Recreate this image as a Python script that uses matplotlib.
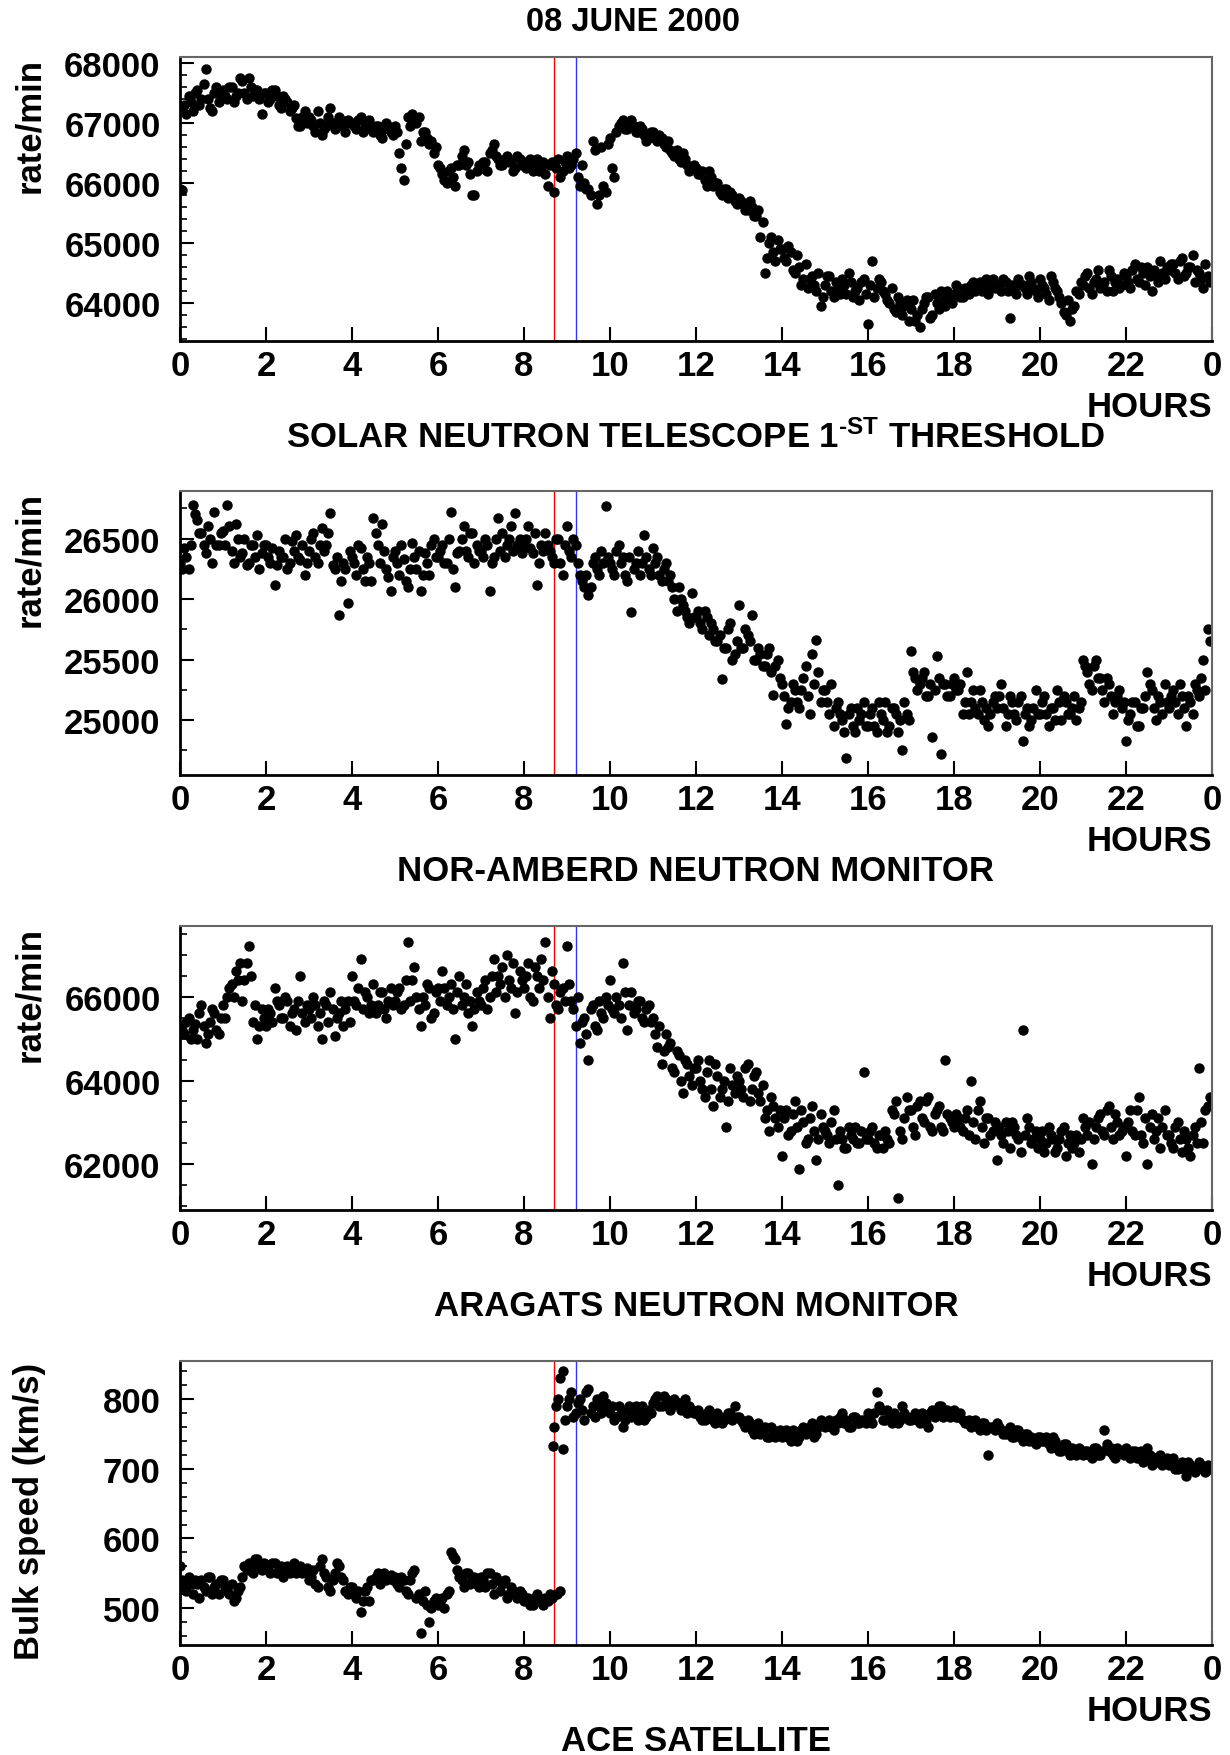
import numpy as np
import matplotlib
matplotlib.use("Agg")
import matplotlib.pyplot as plt

plt.rcParams.update({'font.family': 'Liberation Sans', 'font.weight': 'bold',
                     'axes.labelweight': 'bold', 'font.size': 25,
                     'mathtext.fontset': 'custom',
                     'mathtext.rm': 'Liberation Sans:bold',
                     'mathtext.bf': 'Liberation Sans:bold',
                     'mathtext.default': 'bf'})

# Values: one every 6 minutes (0.1 h) on the hour grid,
# and a second set on the half-step (0.05 h + k*0.1 h). One row per hour.
snt = [65900, 67300, 67450, 67200, 67550, 67400, 67900, 67250, 67500, 67350,
       67550, 67400, 67600, 67450, 67750, 67500, 67750, 67450, 67550, 67150,
       67500, 67400, 67550, 67300, 67450, 67350, 67250, 67080, 66950, 67200,
       67100, 66950, 67200, 66800, 66950, 67250, 66900, 67100, 66950, 67050,
       67000, 66900, 67100, 66950, 67050, 66850, 66950, 66750, 67000, 66850,
       66950, 66500, 66050, 67100, 67150, 67000, 66700, 66850, 66650, 66500,
       66300, 66150, 66000, 66250, 65950, 66300, 66550, 66350, 65800, 66200,
       66250, 66350, 66500, 66650, 66400, 66300, 66450, 66350, 66250, 66400,
       66350, 66300, 66200, 66400, 66250, 66150, 66300, 65850, 66400, 66200,
       66450, 66300, 66500, 65950, 66000, 65900, 66700, 65650, 66600, 65850,
       66750, 66100, 66950, 67050, 66900, 67050, 66850, 66950, 66800, 66750,
       66850, 66700, 66750, 66600, 66550, 66450, 66400, 66500, 66300, 66250,
       66250, 66150, 66050, 66200, 65950, 66000, 65800, 65900, 65850, 65700,
       65750, 65650, 65550, 65600, 65450, 65100, 64500, 65000, 64850, 65050,
       64900, 64700, 64850, 64500, 64600, 64400, 64250, 64450, 64200, 63950,
       64300, 64450, 64100, 64250, 64400, 64150, 64350, 64200, 64050, 64400,
       63650, 64700, 64250, 64350, 64150, 64000, 63900, 64100, 63800, 64050,
       63900, 63700, 63600, 64000, 64100, 63800, 64000, 64200, 63950, 64100,
       64150, 64250, 64100, 64200, 64300, 64200, 64350, 64250, 64150, 64400,
       64300, 64200, 64350, 63750, 64250, 64400, 64300, 64150, 64350, 64200,
       64400, 64250, 64050, 64350, 64200, 64000, 63800, 63700, 63950, 64150,
       64300, 64500, 64150, 64400, 64250, 64350, 64550, 64200, 64400, 64300,
       64450, 64250, 64650, 64350, 64500, 64600, 64200, 64450, 64700, 64400,
       64550, 64650, 64400, 64750, 64500, 64600, 64350, 64500, 64250, 64450]
snt_b = [65880, 67150, 67350, 67500, 67300, 67650, 67400, 67200, 67600, 67450,
         67450, 67600, 67350, 67500, 67700, 67400, 67600, 67550, 67400, 67500,
         67350, 67550, 67450, 67250, 67400, 67200, 67300, 66950, 67100, 67000,
         67050, 66850, 67000, 66900, 67100, 67000, 66950, 67050, 66850, 67000,
         66950, 67050, 66850, 67000, 66900, 66950, 66800, 66900, 66950, 66800,
         66850, 66250, 66650, 66950, 67050, 67100, 66850, 66750, 66700, 66600,
         66250, 66050, 66200, 66100, 66300, 66450, 66300, 66150, 65800, 66300,
         66350, 66200, 66550, 66450, 66300, 66400, 66350, 66200, 66450, 66300,
         66250, 66400, 66300, 66200, 66350, 65950, 66350, 66250, 66100, 66350,
         66250, 66400, 66100, 66300, 65900, 65800, 66550, 65800, 65950, 66650,
         66250, 66850, 67000, 66900, 67000, 66950, 66850, 66900, 66700, 66850,
         66750, 66800, 66650, 66700, 66500, 66550, 66350, 66400, 66200, 66300,
         66150, 66200, 65950, 66100, 66000, 65850, 65900, 65750, 65800, 65650,
         65700, 65550, 65700, 65450, 65550, 65350, 64750, 65100, 64700, 64900,
         64750, 64950, 64550, 64800, 64300, 64650, 64400, 64300, 64500, 64100,
         64450, 64200, 64350, 64150, 64300, 64500, 64100, 64250, 64350, 64150,
         64300, 64100, 64400, 64200, 64050, 64250, 63850, 64000, 63950, 63700,
         64050, 63800, 63900, 64100, 63750, 64150, 63900, 64050, 64200, 64000,
         64300, 64100, 64250, 64150, 64350, 64250, 64200, 64400, 64300, 64250,
         64250, 64400, 64200, 64300, 64150, 64300, 64250, 64450, 64250, 64100,
         64300, 64150, 64450, 64250, 64100, 63850, 64050, 63900, 64200, 64350,
         64450, 64250, 64350, 64550, 64300, 64200, 64450, 64350, 64250, 64500,
         64350, 64550, 64400, 64600, 64300, 64450, 64550, 64350, 64500, 64600,
         64650, 64500, 64700, 64450, 64600, 64800, 64550, 64400, 64650, 64350]

nor_amberd = [26300, 26420, 26250, 26780, 26650, 26550, 26380, 26500, 26720, 26450,
              26560, 26780, 26400, 26620, 26350, 26500, 26300, 26450, 26530, 26380,
              26450, 26300, 26120, 26400, 26350, 26250, 26480, 26530, 26320, 26200,
              26400, 26550, 26300, 26590, 26450, 26710, 26250, 25870, 26300, 25970,
              26350, 26200, 26420, 26150, 26300, 26670, 26450, 26620, 26250, 26070,
              26400, 26200, 26330, 26100, 26460, 26250, 26070, 26380, 26200, 26500,
              26350, 26450, 26300, 26720, 26100, 26400, 26600, 26350, 26550, 26450,
              26400, 26500, 26070, 26350, 26670, 26550, 26450, 26600, 26710, 26500,
              26450, 26600, 26380, 26120, 26450, 26550, 26400, 26300, 26500, 26200,
              26600, 26350, 26450, 26200, 26100, 26030, 26300, 26250, 26400, 26770,
              26300, 26200, 26450, 26350, 26150, 25890, 26300, 26200, 26530, 26250,
              26420, 26350, 26150, 26300, 26200, 26000, 26100, 25950, 25850, 26050,
              25850, 25800, 25900, 25700, 25750, 25650, 25340, 25600, 25800, 25550,
              25950, 25600, 25700, 25870, 25500, 25550, 25450, 25600, 25210, 25500,
              25300, 24970, 25150, 25250, 25100, 25350, 25200, 25550, 25660, 25150,
              25250, 25050, 24950, 25150, 25000, 24690, 25100, 24900, 25000, 25150,
              24950, 25100, 24900, 25050, 25150, 24950, 25100, 24900, 24750, 25050,
              25570, 25350, 25300, 25400, 25200, 24860, 25530, 24720, 25300, 25200,
              25350, 25250, 25050, 25400, 25150, 25100, 25250, 25000, 24950, 25150,
              25100, 25300, 24950, 25200, 25050, 25150, 24830, 25100, 25000, 25250,
              25050, 25200, 24950, 25100, 25250, 25000, 25150, 25050, 25200, 25100,
              25500, 25400, 25250, 25500, 25350, 25150, 25300, 25050, 25200, 25100,
              24830, 25050, 25150, 24950, 25100, 25400, 25250, 25000, 25150, 25300,
              25100, 25250, 25050, 25200, 24950, 25150, 25300, 25200, 25500, 25750]
nor_amberd_b = [26250, 26350, 26450, 26700, 26550, 26450, 26600, 26300, 26450, 26550,
                26450, 26600, 26300, 26500, 26380, 26280, 26450, 26350, 26250, 26450,
                26350, 26420, 26280, 26350, 26500, 26300, 26400, 26350, 26450, 26300,
                26500, 26350, 26450, 26400, 26550, 26280, 26350, 26150, 26250, 26400,
                26300, 26450, 26250, 26350, 26150, 26550, 26300, 26400, 26180, 26350,
                26300, 26450, 26150, 26250, 26350, 26400, 26200, 26300, 26450, 26350,
                26400, 26300, 26500, 26250, 26380, 26500, 26400, 26550, 26300, 26400,
                26350, 26450, 26300, 26500, 26400, 26350, 26500, 26400, 26450, 26380,
                26500, 26420, 26550, 26300, 26400, 26450, 26350, 26500, 26300, 26450,
                26400, 26500, 26300, 26150, 26200, 26100, 26350, 26200, 26300, 26350,
                26250, 26400, 26300, 26200, 26350, 26250, 26400, 26300, 26350, 26200,
                26300, 26200, 26250, 26150, 26100, 25900, 26000, 25900, 25800, 25850,
                25900, 25750, 25850, 25800, 25650, 25700, 25600, 25750, 25500, 25650,
                25600, 25750, 25650, 25500, 25600, 25450, 25550, 25400, 25450, 25350,
                25200, 25100, 25300, 25150, 25250, 25450, 25050, 25300, 25400, 25250,
                25150, 25300, 25100, 25050, 24900, 25050, 24950, 25100, 25050, 24950,
                25050, 24950, 25150, 25000, 24900, 25100, 25050, 25000, 25150, 25000,
                25400, 25250, 25350, 25200, 25300, 25250, 25350, 25300, 25200, 25300,
                25250, 25300, 25150, 25050, 25250, 25050, 25150, 25100, 25050, 25200,
                25200, 25100, 25050, 25150, 25000, 25200, 25050, 24950, 25100, 25050,
                25150, 25050, 25100, 25000, 25150, 25200, 25050, 25100, 25000, 25150,
                25450, 25300, 25450, 25350, 25250, 25350, 25200, 25150, 25250, 25150,
                25000, 25150, 24950, 25100, 25200, 25300, 25100, 25200, 25050, 25150,
                25200, 25150, 25300, 25100, 25200, 25050, 25250, 25350, 25250, 25650]

aragats = [65300, 65100, 65500, 65200, 65000, 65800, 64900, 65400, 65600, 65100,
           65800, 66000, 66300, 66600, 66800, 66400, 67200, 65400, 65000, 65700,
           65300, 65600, 66200, 65800, 65500, 65900, 65600, 65200, 66500, 65400,
           65700, 66000, 65300, 65000, 65800, 66100, 65050, 65600, 65300, 65900,
           66500, 65800, 66900, 66100, 65600, 66300, 65800, 66100, 65500, 66200,
           65900, 66200, 65800, 67300, 66400, 66000, 65300, 65800, 66200, 65600,
           66200, 66600, 65800, 66300, 65000, 66500, 66000, 65600, 65300, 66100,
           65800, 66400, 66000, 66900, 66500, 66700, 67000, 66200, 65600, 66600,
           66200, 66800, 65900, 66500, 66900, 67300, 65500, 66300, 65700, 66200,
           67200, 65900, 65300, 64900, 65500, 64500, 65800, 65200, 65600, 66000,
           66400, 65600, 65800, 66800, 65200, 66100, 65700, 65900, 65400, 65800,
           65500, 64800, 64400, 65100, 64900, 64200, 64600, 63700, 64400, 63900,
           64300, 64000, 63600, 64500, 63400, 64100, 63800, 62900, 64300, 63700,
           64000, 63600, 64400, 63800, 64200, 63500, 63100, 62800, 63400, 62900,
           62200, 63300, 62800, 63500, 61900, 63000, 62600, 63400, 62100, 63200,
           62800, 62500, 63300, 61500, 62600, 62400, 62700, 62900, 62500, 64200,
           62600, 62900, 62400, 62700, 62800, 62500, 63200, 61200, 62600, 63600,
           63300, 62700, 63500, 63000, 63600, 62800, 63300, 62900, 64500, 63100,
           62900, 63100, 62800, 63300, 64000, 62600, 63500, 62500, 63100, 62800,
           62100, 62700, 63000, 62400, 62900, 62600, 65200, 63100, 62500, 62800,
           62600, 62300, 62900, 62600, 62400, 62800, 62200, 62700, 62500, 62300,
           63100, 62700, 62000, 62900, 63200, 62700, 63400, 62600, 63000, 62800,
           62200, 63300, 62700, 63600, 62500, 62000, 63200, 62800, 62400, 63300,
           62700, 62400, 63000, 62300, 62600, 62200, 62900, 64300, 62500, 63400]
aragats_b = [65200, 65400, 65000, 65350, 65600, 65300, 65100, 65700, 65200, 65500,
             65500, 66200, 66000, 66400, 65900, 66800, 66500, 65800, 65300, 65500,
             65700, 65400, 65900, 65500, 66000, 65300, 65700, 65900, 65600, 65800,
             65500, 65800, 65600, 65900, 65400, 65700, 65500, 65900, 65700, 65400,
             65900, 66200, 65700, 66000, 65800, 65600, 66100, 65700, 65900, 65800,
             66100, 65700, 66400, 65900, 66700, 65700, 66000, 66300, 65500, 66100,
             65900, 66200, 66000, 65700, 66100, 65800, 66300, 65900, 65700, 65900,
             66200, 65700, 66500, 66100, 66300, 66000, 66400, 66800, 66100, 66400,
             66500, 66000, 66700, 66200, 66400, 66000, 66600, 65800, 66100, 65900,
             66300, 65700, 66000, 65400, 65100, 65700, 65300, 65900, 65500, 65800,
             65700, 66000, 65500, 66100, 65800, 65600, 65900, 65500, 65700, 65400,
             65100, 65300, 64700, 64800, 64300, 64700, 64000, 64500, 64100, 64300,
             64500, 63800, 64200, 63800, 64400, 63600, 64000, 63500, 63900, 64100,
             63800, 64300, 63500, 64100, 63700, 63900, 63300, 63600, 63100, 63300,
             63100, 62700, 63200, 62900, 63300, 62500, 63100, 62800, 62600, 62900,
             62700, 63000, 62600, 62800, 62400, 62900, 62600, 62500, 62800, 62600,
             62800, 62500, 62700, 62400, 62600, 63300, 63500, 62800, 63100, 63300,
             62900, 63400, 63100, 63500, 62900, 63200, 63400, 62800, 63200, 63000,
             63200, 62900, 63100, 62700, 63000, 63300, 62900, 63100, 62700, 63000,
             62900, 62500, 62800, 63000, 62700, 62300, 62700, 62900, 62600, 62400,
             62800, 62500, 62700, 62300, 62600, 62900, 62500, 62400, 62700, 62600,
             62900, 63000, 62600, 63100, 62800, 63300, 62900, 63200, 62700, 62900,
             63000, 62800, 63300, 62700, 63100, 62900, 62600, 63100, 62900, 62700,
             62500, 62900, 62600, 62800, 62400, 62700, 62500, 63000, 63300, 63600]

ace = [560, 530, 545, 520, 535, 540, 525, 545, 530, 520,
       540, 525, 535, 515, 530, 560, 565, 550, 570, 555,
       560, 550, 565, 555, 545, 560, 555, 550, 560, 555,
       540, 555, 530, 570, 545, 525, 550, 560, 540, 520,
       530, 515, 495, 525, 510, 540, 550, 545, 540, 548,
       545, 530, 540, 520, 550, 515, 465, 525, 480, 510,
       505, 515, 520, 580, 570, 545, 530, 550, 540, 535,
       545, 530, 550, 520, 540, 535, 515, 530, 520, 525,
       510, 515, 505, 520, 510, 515, 520, 760, 800, 840,
       790, 810, 780, 800, 770, 815, 790, 800, 780, 795,
       780, 770, 790, 760, 785, 775, 790, 780, 770, 785,
       795, 805, 790, 800, 785, 800, 795, 790, 780, 785,
       780, 775, 770, 785, 770, 780, 765, 775, 780, 790,
       775, 765, 770, 755, 760, 750, 760, 745, 755, 750,
       745, 755, 740, 750, 745, 760, 755, 765, 750, 770,
       760, 770, 755, 765, 780, 770, 760, 775, 765, 770,
       780, 765, 810, 785, 770, 775, 780, 765, 790, 775,
       770, 780, 765, 775, 760, 785, 780, 790, 780, 775,
       785, 775, 770, 765, 760, 770, 755, 765, 720, 760,
       765, 755, 750, 760, 745, 755, 740, 750, 745, 735,
       745, 740, 735, 745, 730, 725, 735, 720, 725, 730,
       720, 725, 715, 730, 720, 755, 725, 720, 730, 725,
       730, 715, 725, 720, 710, 730, 705, 715, 720, 710,
       705, 715, 700, 710, 690, 705, 695, 710, 700, 705]
ace_b = [540, 525, 535, 540, 515, 530, 545, 520, 535, 540,
         530, 520, 510, 525, 545, 555, 560, 570, 560, 565,
         555, 565, 550, 560, 555, 550, 565, 555, 550, 558,
         545, 535, 560, 550, 530, 540, 565, 545, 525, 530,
         520, 525, 510, 530, 540, 545, 535, 550, 545, 540,
         535, 545, 525, 540, 555, 520, 510, 505, 500, 515,
         510, 500, 525, 575, 555, 540, 550, 535, 545, 530,
         540, 550, 535, 545, 525, 540, 520, 525, 515, 520,
         515, 505, 515, 510, 505, 510, 515, 790, 830, 770,
         800, 775, 795, 785, 810, 780, 775, 790, 805, 785,
         790, 775, 780, 770, 790, 780, 770, 790, 775, 780,
         800, 790, 805, 795, 790, 795, 785, 800, 790, 780,
         785, 770, 780, 775, 765, 775, 770, 780, 770, 775,
         770, 760, 765, 750, 765, 755, 745, 760, 745, 755,
         750, 745, 755, 740, 755, 750, 760, 745, 760, 765,
         765, 760, 770, 775, 765, 760, 775, 765, 770, 765,
         770, 780, 790, 770, 785, 765, 775, 770, 780, 770,
         775, 770, 780, 770, 780, 775, 790, 775, 785, 780,
         775, 780, 765, 770, 765, 760, 765, 755, 760, 755,
         760, 750, 755, 745, 755, 745, 750, 740, 740, 745,
         740, 745, 730, 740, 725, 735, 725, 730, 720, 725,
         725, 720, 730, 720, 725, 735, 730, 715, 725, 720,
         720, 725, 715, 725, 715, 720, 715, 710, 705, 715,
         710, 700, 705, 700, 710, 700, 700, 705, 695, 700]
# overlapping points around the shock arrival
ace_extra_t = [8.68, 8.78, 8.83, 8.9]
ace_extra_v = [733, 520, 525, 728]

hours = np.arange(240) * 0.1
hours_b = hours + 0.05
red_line = 8.7
blue_line = 9.2

panels = [
    (snt, snt_b, (63370, 68085), 1000, 200, 'rate/min',
     r'SOLAR NEUTRON TELESCOPE 1$^{\text{-ST}}$ THRESHOLD'),
    (nor_amberd, nor_amberd_b, (24547, 26890), 500, 250, 'rate/min',
     'NOR-AMBERD NEUTRON MONITOR'),
    (aragats, aragats_b, (60916, 67673), 2000, 500, 'rate/min',
     'ARAGATS NEUTRON MONITOR'),
    (ace, ace_b, (447, 854), 100, 20, 'Bulk speed (km/s)', 'ACE SATELLITE'),
]
bottoms = [0.8052, 0.5581, 0.3104, 0.0626]

fig = plt.figure(figsize=(12.3, 17.56), dpi=100)
fig.text(0.515, 0.987, '08 JUNE 2000', ha='center', va='center', fontsize=23.5)

for i, (vals, vals_b, ylim, major, minor, ylab, title) in enumerate(panels):
    ax = fig.add_axes([0.1463, bottoms[i], 0.839, 0.1615])
    ax.axvline(red_line, color='red', lw=1)
    ax.axvline(blue_line, color='#3333ff', lw=1)
    ax.plot(hours, vals, 'o', color='black', ms=7.5, mew=0)
    ax.plot(hours_b, vals_b, 'o', color='black', ms=7.5, mew=0)
    if i == 3:
        ax.plot(ace_extra_t, ace_extra_v, 'o', color='black', ms=7.5, mew=0)
    ax.set_xlim(0, 24)
    ax.set_ylim(*ylim)
    ax.set_xticks(np.arange(0, 25, 2))
    ax.set_xticklabels([str(h % 24) for h in range(0, 25, 2)])
    first = int(np.ceil(ylim[0] / major)) * major
    ax.set_yticks(np.arange(first, ylim[1], major))
    ax.set_yticks(np.arange(int(np.ceil(ylim[0] / minor)) * minor, ylim[1], minor), minor=True)
    ax.tick_params(axis='both', which='major', direction='in', length=10, width=1.5)
    ax.tick_params(axis='y', which='major', pad=14)
    ax.tick_params(axis='x', which='major', pad=6)
    ax.tick_params(axis='y', which='minor', direction='in', length=5, width=1.2)
    ax.tick_params(axis='x', which='minor', bottom=False)
    for s in ['left', 'bottom']:
        ax.spines[s].set_linewidth(2)
    for s in ['top', 'right']:
        ax.spines[s].set_color('#666666')
        ax.spines[s].set_linewidth(1.5)
    ax.set_ylabel(ylab, loc='top', fontsize=25)
    ax.yaxis.set_label_coords(-0.13, 1.0)
    ax.annotate('HOURS', xy=(1.0, 0.0), xycoords='axes fraction',
                xytext=(0, -47), textcoords='offset points', ha='right', va='center')
    ax.annotate(title, xy=(0.5, 0.0), xycoords='axes fraction',
                xytext=(0, -69), textcoords='offset points', ha='center', va='center')

fig.savefig('out.png', dpi=100)
